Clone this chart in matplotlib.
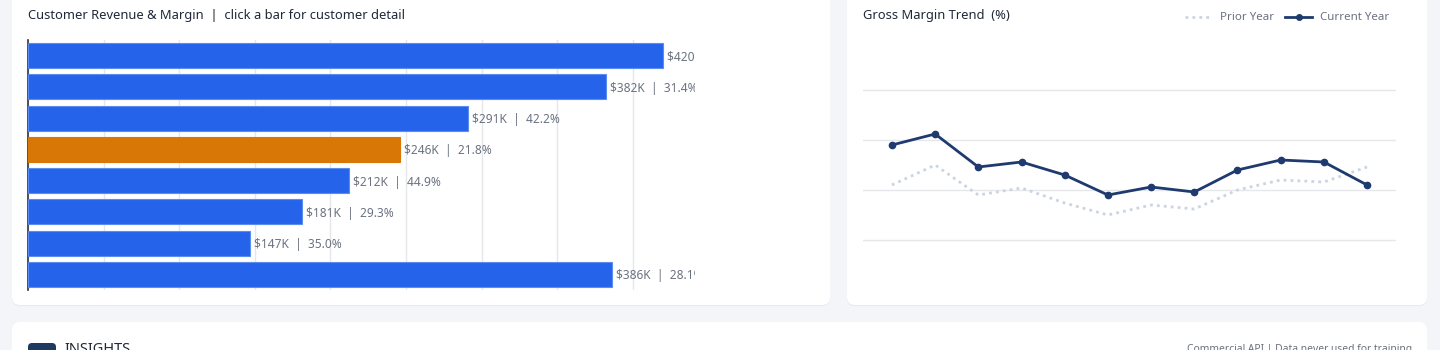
import matplotlib
matplotlib.use("Agg")
import matplotlib.pyplot as plt
from matplotlib.patches import FancyBboxPatch
from matplotlib.lines import Line2D

# ---------------- data ----------------
customers = ["C1", "C2", "C3", "C4", "C5", "C6", "C7", "C8"]
revenue_k = [420, 382, 291, 246, 212, 181, 147, 386]
margin_pct = [38.5, 31.4, 42.2, 21.8, 44.9, 29.3, 35.0, 28.1]
highlight = [False, False, False, True, False, False, False, False]

months = ["Jan", "Feb", "Mar", "Apr", "May", "Jun", "Jul", "Aug", "Sep", "Oct", "Nov", "Dec"]
current_year = [34.5, 35.6, 32.3, 32.8, 31.5, 29.5, 30.3, 29.8, 32.0, 33.0, 32.8, 30.5]
prior_year = [30.5, 32.5, 29.5, 30.2, 28.7, 27.5, 28.5, 28.1, 30.0, 31.0, 30.8, 32.3]
margin_grid = [25, 30, 35, 40]

# ---------------- style ----------------
FONT = ["Noto Sans", "DejaVu Sans"]
plt.rcParams["font.family"] = FONT
PAGE = "#f3f5f9"
BLUE = "#2563eb"
ORANGE = "#d97706"
NAVY = "#1e3a6e"
PRIOR = "#cbd5e1"
GRID = "#e5e7eb"
LABEL = "#6b7280"
TITLE = "#1f2937"

W, H = 1440, 350
fig = plt.figure(figsize=(W / 100, H / 100), dpi=100)
fig.patch.set_facecolor(PAGE)

# background canvas in pixel coordinates
bg = fig.add_axes([0, 0, 1, 1], zorder=0)
bg.set_xlim(0, W)
bg.set_ylim(H, 0)
bg.axis("off")


def card(x0, y0, x1, y1):
    shadow = FancyBboxPatch((x0, y0 + 1), x1 - x0, y1 - y0,
                            boxstyle="round,pad=0,rounding_size=8",
                            fc="#e6e9ef", ec="none", zorder=1)
    bg.add_patch(shadow)
    p = FancyBboxPatch((x0, y0), x1 - x0, y1 - y0,
                       boxstyle="round,pad=0,rounding_size=8",
                       fc="white", ec="none", zorder=2)
    bg.add_patch(p)


card(12, -20, 830, 305)
card(847, -20, 1427, 305)
card(12, 322, 1427, 380)

# titles
bg.text(28, 16, "Customer Revenue & Margin  |  click a bar for customer detail",
        fontsize=9.3, color=TITLE, va="center", ha="left", zorder=5)
bg.text(863, 16, "Gross Margin Trend  (%)", fontsize=9.3, color=TITLE,
        va="center", ha="left", zorder=5)

# legend (right card)
bg.add_line(Line2D([1185, 1212], [17, 17], color=PRIOR, lw=2, ls=(0, (1, 1.5)), zorder=5))
bg.text(1220, 17, "Prior Year", fontsize=8.3, color=LABEL, va="center", ha="left", zorder=5)
bg.add_line(Line2D([1285, 1312], [17, 17], color=NAVY, lw=2, zorder=5))
bg.plot([1298.5], [17], marker="o", ms=4, color=NAVY, zorder=6)
bg.text(1320, 17, "Current Year", fontsize=8.3, color=LABEL, va="center", ha="left", zorder=5)

# insights header (bottom card, cut off by the frame edge as in the reference)
icon = FancyBboxPatch((28, 343), 28, 20, boxstyle="round,pad=0,rounding_size=4",
                      fc="#1e3a5f", ec="none", zorder=5)
bg.add_patch(icon)
bg.text(64, 342, "INSIGHTS", fontsize=10.5, fontweight="bold", color="#1f2937",
        va="top", ha="left", zorder=5)
bg.text(1412, 344, "Commercial API | Data never used for training", fontsize=7.4,
        color=LABEL, va="top", ha="right", zorder=5)

# ---------------- left: horizontal bar chart ----------------
axL = fig.add_axes([28 / W, 1 - 290 / H, 667 / W, 250 / H], zorder=3)
axL.patch.set_alpha(0)
ypos = list(range(len(customers)))
colors = [ORANGE if h else BLUE for h in highlight]
edges = [ORANGE if h else "#5b8def" for h in highlight]
axL.barh(ypos, revenue_k, height=0.8, color=colors, edgecolor=edges, linewidth=0.8, zorder=3)
axL.set_ylim(len(customers) - 0.5, -0.5)
axL.set_xlim(0, max(revenue_k) * 1.05)
axL.set_xticks(range(0, 450, 50))
axL.grid(axis="x", color=GRID, lw=1, zorder=0)
axL.set_axisbelow(True)
for s in ["top", "right", "bottom"]:
    axL.spines[s].set_visible(False)
axL.spines["left"].set_color("#333333")
axL.spines["left"].set_linewidth(1.2)
axL.tick_params(axis="both", length=0, labelleft=False, labelbottom=False)
axL.set_yticks(ypos)
for y, v, m in zip(ypos, revenue_k, margin_pct):
    axL.annotate(f"${v}K  |  {m:.1f}%", xy=(v, y), xytext=(3, 0),
                 textcoords="offset points", va="center_baseline", ha="left",
                 fontsize=8.6, color=LABEL, annotation_clip=False, clip_on=True, zorder=4)

# ---------------- right: line chart ----------------
axR = fig.add_axes([863 / W, 1 - 290 / H, 533 / W, 250 / H], zorder=3)
axR.patch.set_alpha(0)
x = list(range(len(months)))
axR.plot(x, prior_year, color=PRIOR, lw=2, ls=(0, (1, 1.5)), zorder=3)
axR.plot(x, current_year, color=NAVY, lw=2, marker="o", ms=4.5, zorder=4)
axR.set_xlim(-0.67, len(months) - 1 + 0.67)
axR.set_ylim(20, 45)
axR.set_yticks(margin_grid)
axR.set_xticks(x)
axR.grid(axis="y", color=GRID, lw=1, zorder=0)
axR.set_axisbelow(True)
for s in axR.spines.values():
    s.set_visible(False)
axR.tick_params(axis="both", length=0, labelleft=False, labelbottom=False)

fig.savefig("out.png", dpi=100, facecolor=PAGE)
